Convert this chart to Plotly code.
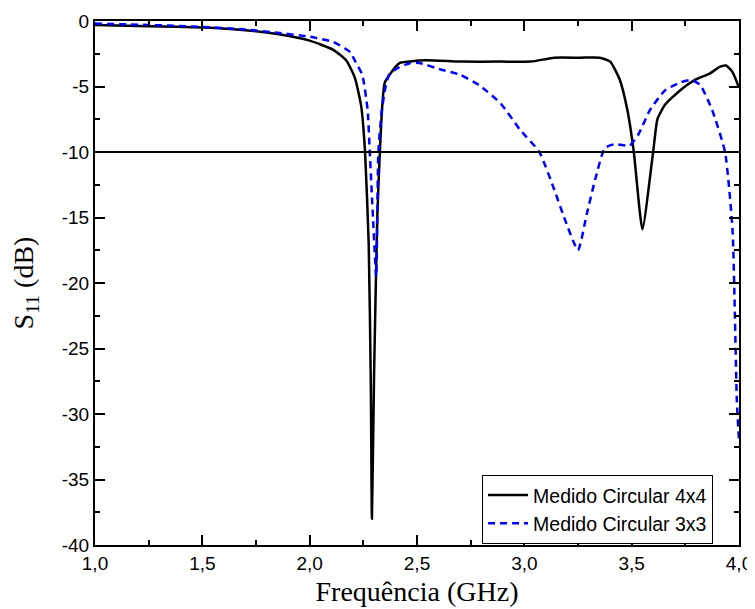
import plotly.graph_objects as go

# Medido Circular 4x4 (frequency GHz, S11 dB)
f_4x4 = [1.00, 1.25, 1.50, 1.70, 1.85, 2.00, 2.11, 2.17, 2.21, 2.24, 2.258, 2.275, 2.285, 2.29,
         2.30, 2.315, 2.327, 2.35, 2.40, 2.42, 2.54, 2.70, 2.89, 3.03, 3.14, 3.26, 3.35,
         3.40, 3.445, 3.48, 3.51, 3.55, 3.60, 3.62, 3.655, 3.725, 3.795, 3.865, 3.91,
         3.94, 3.97, 4.00]
s_4x4 = [-0.3, -0.4, -0.5, -0.7, -1.0, -1.5, -2.2, -3.0, -4.3, -6.5, -10.0, -17.0, -28.0, -38.0,
         -27.0, -15.0, -10.0, -4.7, -3.5, -3.2, -3.0, -3.1, -3.1, -3.1, -2.8, -2.8, -2.8,
         -3.1, -4.5, -6.8, -10.0, -15.9, -10.0, -7.5, -6.4, -5.3, -4.5, -4.0, -3.5,
         -3.4, -3.9, -5.1]

# Medido Circular 3x3
f_3x3 = [1.00, 1.25, 1.50, 1.70, 1.85, 2.00, 2.11, 2.165, 2.19, 2.21, 2.245, 2.27, 2.28,
         2.295, 2.31, 2.32, 2.335, 2.35, 2.37, 2.41, 2.47, 2.51, 2.61, 2.70, 2.79, 2.89,
         2.98, 3.07, 3.14, 3.19, 3.25, 3.29, 3.33, 3.375, 3.42, 3.49, 3.53, 3.585, 3.655,
         3.725, 3.78, 3.82, 3.875, 3.935, 3.97, 3.99, 4.00]
s_3x3 = [-0.2, -0.3, -0.45, -0.65, -0.9, -1.2, -1.6, -2.1, -2.4, -3.0, -4.1, -6.8, -10.0,
         -15.0, -19.5, -10.0, -7.0, -5.3, -4.1, -3.6, -3.2, -3.2, -3.7, -4.1, -4.9, -6.3,
         -8.3, -10.0, -12.9, -15.2, -17.5, -14.8, -12.1, -9.7, -9.4, -9.5, -8.7, -6.8, -5.3,
         -4.7, -4.5, -4.9, -6.8, -10.0, -16.0, -29.0, -32.0]

x_ticks = [1.0, 1.5, 2.0, 2.5, 3.0, 3.5, 4.0]
x_labels = ["1,0", "1,5", "2,0", "2,5", "3,0", "3,5", "4,0"]
y_ticks = [0, -5, -10, -15, -20, -25, -30, -35, -40]
y_labels = ["0", "-5", "-10", "-15", "-20", "-25", "-30", "-35", "-40"]
ref_level = -10

fig = go.Figure()
fig.add_trace(go.Scatter(x=f_4x4, y=s_4x4, mode="lines", name="Medido Circular 4x4",
                         line=dict(color="black", width=2.5, shape="spline", smoothing=0.5)))
fig.add_trace(go.Scatter(x=f_3x3, y=s_3x3, mode="lines", name="Medido Circular 3x3",
                         line=dict(color="#0000ff", width=2.5, dash="7px,5px", shape="spline", smoothing=0.5)))
fig.add_shape(type="line", xref="x", yref="y", x0=1.0, x1=4.0, y0=ref_level, y1=ref_level,
              line=dict(color="black", width=2))

axis_common = dict(showline=True, linecolor="black", linewidth=2, mirror="ticks",
                   ticks="inside", ticklen=10, tickwidth=2, tickcolor="black",
                   showgrid=False, zeroline=False, automargin=False,
                   tickfont=dict(family="Liberation Sans, Arial", size=19, color="black"))

fig.update_xaxes(range=[1.0, 4.0], tickvals=x_ticks, ticktext=x_labels,
                 minor=dict(ticks="inside", ticklen=5, dtick=0.25, tickcolor="black", tickwidth=1.5),
                 title=dict(text="Frequência (GHz)", font=dict(family="Liberation Serif, Times New Roman", size=28, color="black"),
                            standoff=9),
                 **axis_common)
fig.update_yaxes(range=[-40, 0], tickvals=y_ticks, ticktext=y_labels,
                 minor=dict(ticks="inside", ticklen=5, dtick=2.5, tickcolor="black", tickwidth=1.5),
                 title=dict(text="S<sub>11</sub> (dB)", font=dict(family="Liberation Serif, Times New Roman", size=28, color="black"),
                            standoff=21),
                 **axis_common)

# page body adds ~8px offset; margins compensate so plot area sits at x 95-739, y 21-545
fig.update_layout(
    width=755, height=609,
    margin=dict(l=87, r=24, t=13, b=72),
    plot_bgcolor="white", paper_bgcolor="white",
    legend=dict(x=0.601, y=0.134, xanchor="left", yanchor="top",
                bordercolor="black", borderwidth=1, bgcolor="white",
                font=dict(family="Liberation Sans, Arial", size=19.5, color="black"),
                tracegroupgap=0, itemwidth=40),
)

fig.write_html("out.html")
